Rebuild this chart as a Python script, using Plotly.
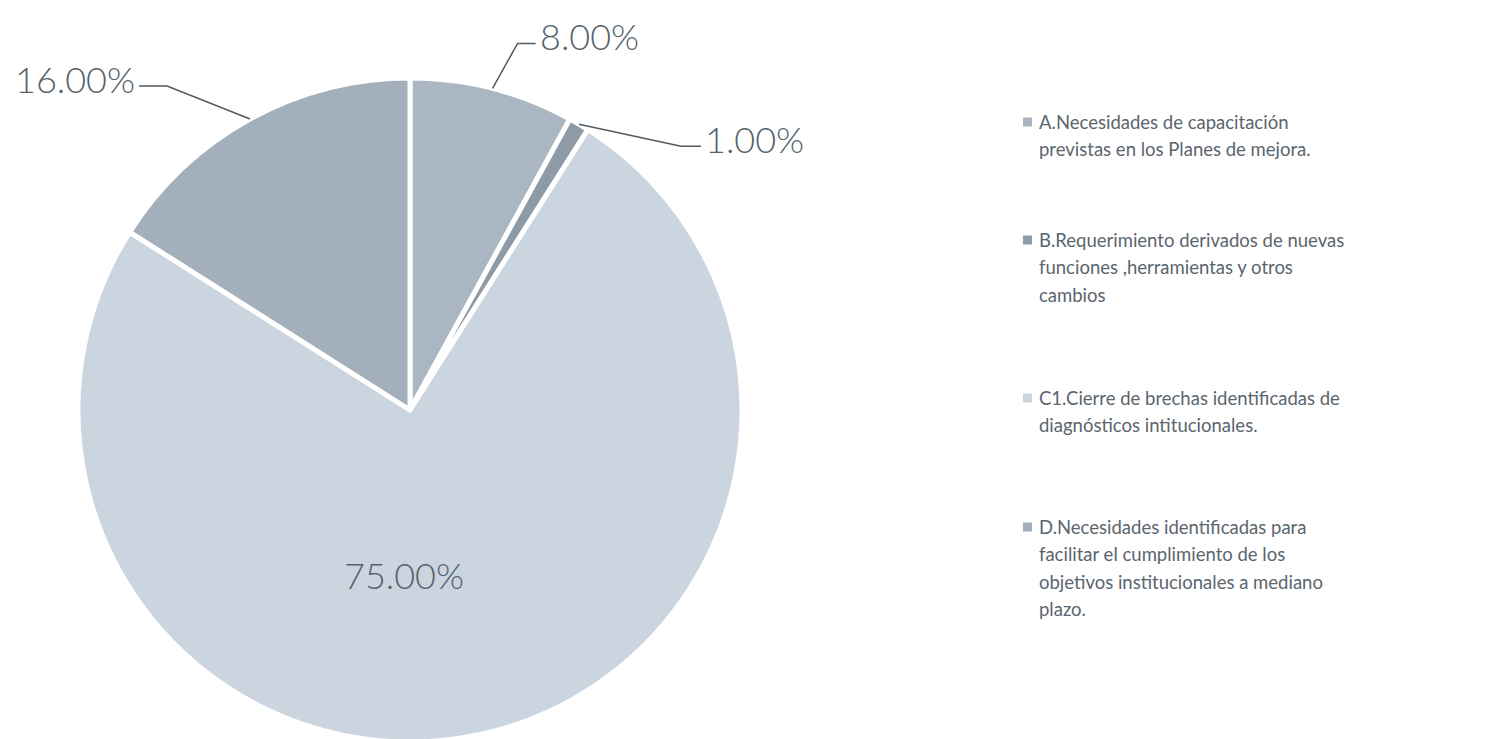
import math
import plotly.graph_objects as go

W, H = 1507, 739
OFF = 8  # default page body margin

labels = [
    "A.Necesidades de capacitación previstas en los Planes de mejora.",
    "B.Requerimiento derivados de nuevas funciones ,herramientas y otros cambios",
    "C1.Cierre de brechas identificadas de diagnósticos intitucionales.",
    "D.Necesidades identificadas para facilitar el cumplimiento de los objetivos institucionales a mediano plazo.",
]
legend_lines = [
    ["A.Necesidades de capacitación", "previstas en los Planes de mejora."],
    ["B.Requerimiento derivados de nuevas", "funciones ,herramientas y otros", "cambios"],
    ["C1.Cierre de brechas identificadas de", "diagnósticos intitucionales."],
    ["D.Necesidades identificadas para", "facilitar el cumplimiento de los",
     "objetivos institucionales a mediano", "plazo."],
]
values = [8.0, 1.0, 75.0, 16.0]
value_text = ["8.00%", "1.00%", "75.00%", "16.00%"]
colors = ["#aab6c1", "#8e9ba7", "#cbd5df", "#a3afba"]

# pie geometry (screen pixels)
CX, CY, R = 410, 410, 332


def px(x):
    return (x - OFF) / W


def py(y):
    return 1 - (y - OFF) / H


fig = go.Figure()
fig.add_trace(go.Pie(
    labels=labels, values=values, sort=False, direction="clockwise", rotation=0,
    marker=dict(colors=colors, line=dict(color="white", width=5)),
    textinfo="none", hoverinfo="label+percent", showlegend=False,
    domain=dict(x=[px(CX - R), px(CX + R)], y=[max(0, py(CY + R)), py(CY - R)]),
))

total = sum(values)
cum = 0
mids = []
for v in values:
    mids.append((cum + v / 2) / total * 2 * math.pi)
    cum += v


def point(angle, rf):
    return CX + rf * R * math.sin(angle), CY - rf * R * math.cos(angle)


label_color = "#56626c"
label_font = dict(family="Lato", size=36, color=label_color, weight=300)

# outside labels: (index, radius factor of anchor, elbow offset, end offset, text side)
outside = [
    (0, 1.0, (25, -45), (43, -45), "left"),
    (1, 1.0, (102, 22), (122, 22), "left"),
    (3, 1.0, (-83, -33), (-111, -33), "right"),
]
for i, rf, elb, end, side in outside:
    ax, ay = point(mids[i], rf)
    ex, ey = ax + elb[0], ay + elb[1]
    tx, ty = ax + end[0], ay + end[1]
    fig.add_shape(type="path", xref="paper", yref="paper",
                  path=f"M {px(ax)},{py(ay)} L {px(ex)},{py(ey)} L {px(tx)},{py(ty)}",
                  line=dict(color="#4f5a63", width=1.5))
    fig.add_annotation(x=px(tx + (2 if side == "left" else -2)), y=py(ty - 7),
                       xref="paper", yref="paper", text=value_text[i],
                       showarrow=False, xanchor=side, yanchor="middle", font=label_font)

# inside label for the big slice
ix, iy = point(mids[2], 0.51)
fig.add_annotation(x=px(ix - 43), y=py(iy), xref="paper", yref="paper",
                   text=value_text[2], showarrow=False, xanchor="center",
                   yanchor="middle", font=label_font)

# custom legend
legend_top = [122, 240, 398, 527]
line_h = 27.3
for i, lines in enumerate(legend_lines):
    y0 = legend_top[i]
    fig.add_shape(type="rect", xref="paper", yref="paper",
                  x0=px(1023), x1=px(1032), y0=py(y0 - 4.5), y1=py(y0 + 4.5),
                  fillcolor=colors[i], line=dict(width=0))
    for k, t in enumerate(lines):
        fig.add_annotation(x=px(1037), y=py(y0 + k * line_h), xref="paper", yref="paper",
                           text=t, showarrow=False, xanchor="left", yanchor="middle",
                           font=dict(family="Lato", size=18.5, color="#5b656e"))

fig.update_layout(
    width=W, height=H, margin=dict(l=0, r=0, t=0, b=0),
    paper_bgcolor="white", plot_bgcolor="white",
)
fig.write_html("out.html")
